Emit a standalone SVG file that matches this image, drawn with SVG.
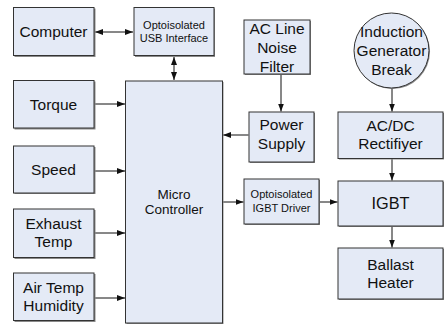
<svg xmlns="http://www.w3.org/2000/svg" width="444" height="324" viewBox="0 0 444 324">
<style>
.b{fill:#e4eaf6;stroke:#333;stroke-width:1}
.s{fill:#8a8a8a}
text{font-family:"Liberation Sans",Arial,sans-serif;fill:#111;text-anchor:middle}
.t{font-size:15.5px}
.m{font-size:13.5px}
.x{font-size:11px}
.c{stroke:#111;stroke-width:1;fill:none}
</style>
<defs>
<marker id="a" viewBox="0 0 8 6" refX="8" refY="3" markerWidth="8" markerHeight="6" markerUnits="userSpaceOnUse" orient="auto-start-reverse">
<path d="M0,0L8,3L0,6z" fill="#111"/>
</marker>
</defs>
<rect width="444" height="324" fill="#fff"/>
<g id="connectors">
<line class="c" x1="95" y1="32" x2="133" y2="32" marker-start="url(#a)" marker-end="url(#a)"/>
<line class="c" x1="174" y1="57" x2="174" y2="80" marker-start="url(#a)" marker-end="url(#a)"/>
<line class="c" x1="94" y1="104" x2="125" y2="104" marker-end="url(#a)"/>
<line class="c" x1="94" y1="171" x2="125" y2="171" marker-end="url(#a)"/>
<line class="c" x1="94" y1="233" x2="125" y2="233" marker-end="url(#a)"/>
<line class="c" x1="94" y1="298" x2="125" y2="298" marker-end="url(#a)"/>
<line class="c" x1="281" y1="75" x2="281" y2="111.5" marker-end="url(#a)"/>
<line class="c" x1="248.5" y1="135" x2="223" y2="135" marker-end="url(#a)"/>
<line class="c" x1="223" y1="202" x2="243.5" y2="202" marker-end="url(#a)"/>
<line class="c" x1="320" y1="202" x2="337.5" y2="202" marker-end="url(#a)"/>
<line class="c" x1="392" y1="88" x2="392" y2="111.5" marker-end="url(#a)"/>
<line class="c" x1="392" y1="159" x2="392" y2="180.5" marker-end="url(#a)"/>
<line class="c" x1="392" y1="227" x2="392" y2="247.5" marker-end="url(#a)"/>
</g>
<g id="computer">
<rect class="s" x="14.5" y="8.5" width="81" height="48.5"/>
<rect class="b" x="13.5" y="7.5" width="80.5" height="48"/>
<text class="t" x="53.5" y="37">Computer</text>
</g>
<g id="usb">
<rect class="s" x="135" y="8.5" width="80" height="48.5"/>
<rect class="b" x="134" y="7.5" width="80" height="48"/>
<text class="x" x="174" y="29">Optoisolated</text>
<text class="x" x="174" y="42">USB Interface</text>
</g>
<g id="torque">
<rect class="s" x="14.5" y="81.5" width="81" height="48"/>
<rect class="b" x="13.5" y="80.5" width="80.5" height="47.5"/>
<text class="t" x="53.5" y="109.5">Torque</text>
</g>
<g id="speed">
<rect class="s" x="14.5" y="147" width="81" height="47"/>
<rect class="b" x="13.5" y="146" width="80.5" height="47"/>
<text class="t" x="53.5" y="175">Speed</text>
</g>
<g id="exhaust">
<rect class="s" x="14.5" y="210" width="81" height="49"/>
<rect class="b" x="13.5" y="209" width="80.5" height="48.5"/>
<text class="t" x="53.5" y="228.5">Exhaust</text>
<text class="t" x="53.5" y="247">Temp</text>
</g>
<g id="airtemp">
<rect class="s" x="14.5" y="274" width="81" height="48"/>
<rect class="b" x="13.5" y="273" width="80.5" height="47.5"/>
<text class="t" x="53.5" y="292.5">Air Temp</text>
<text class="t" x="53.5" y="311">Humidity</text>
</g>
<g id="micro">
<rect class="s" x="126.5" y="82" width="97" height="243"/>
<rect class="b" x="125.5" y="81" width="97" height="242"/>
<text class="m" x="174" y="198.5">Micro</text>
<text class="m" x="174" y="214">Controller</text>
</g>
<g id="acline">
<rect class="s" x="245" y="21" width="66" height="54"/>
<rect class="b" x="244" y="20" width="66" height="54"/>
<text class="t" x="277" y="33.5">AC Line</text>
<text class="t" x="277" y="52.5">Noise</text>
<text class="t" x="277" y="71.5">Filter</text>
</g>
<g id="power">
<rect class="s" x="250" y="113" width="65" height="50"/>
<rect class="b" x="249" y="112" width="65" height="50"/>
<text class="t" x="281.5" y="130">Power</text>
<text class="t" x="281.5" y="148.5">Supply</text>
</g>
<g id="induction">
<circle cx="392.5" cy="51.5" r="37.5" fill="#8a8a8a"/>
<circle class="b" cx="391.5" cy="50.5" r="37.5"/>
<text class="t" x="391.5" y="37">Induction</text>
<text class="t" x="391.5" y="56">Generator</text>
<text class="t" x="391.5" y="75">Break</text>
</g>
<g id="rectifier">
<rect class="s" x="339" y="113" width="105" height="46.5"/>
<rect class="b" x="338" y="112" width="105" height="46.5"/>
<text class="t" x="390.5" y="130.5">AC/DC</text>
<text class="t" x="390.5" y="149">Rectifiyer</text>
</g>
<g id="driver">
<rect class="s" x="245" y="180" width="75" height="45"/>
<rect class="b" x="244" y="179" width="75" height="45"/>
<text class="x" x="281.5" y="198">Optoisolated</text>
<text class="x" x="281.5" y="212">IGBT Driver</text>
</g>
<g id="igbt">
<rect class="s" x="339" y="182" width="105" height="45"/>
<rect class="b" x="338" y="181" width="105" height="45"/>
<text x="390.5" y="209" style="font-size:16.3px">IGBT</text>
</g>
<g id="ballast">
<rect class="s" x="339" y="249" width="105" height="51"/>
<rect class="b" x="338" y="248" width="105" height="51"/>
<text class="t" x="390.5" y="269.5">Ballast</text>
<text class="t" x="390.5" y="288">Heater</text>
</g>
</svg>
